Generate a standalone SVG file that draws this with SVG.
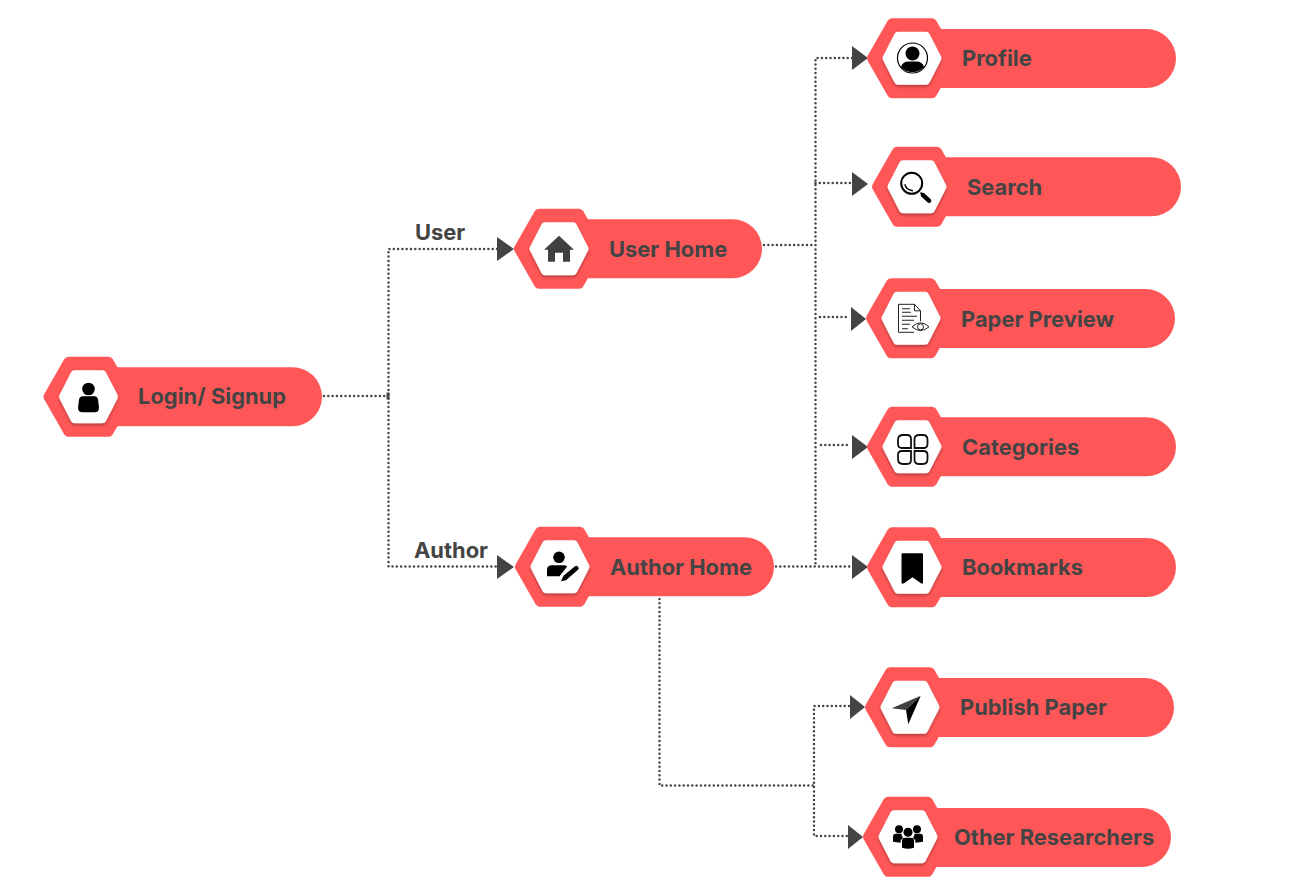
<svg xmlns="http://www.w3.org/2000/svg" width="1294" height="884" viewBox="0 0 1294 884">
<style>
.t{font-family:"Inter","Liberation Sans",sans-serif;font-weight:700;font-size:21.900px;fill:#444}
.pill{fill:#ff5757}
.hexo{fill:#ff5757;stroke:#ff5757;stroke-width:10;stroke-linejoin:round}
.hexw{fill:#fff;stroke:#fff;stroke-width:8;stroke-linejoin:round;filter:url(#sh)}
.dot{fill:none;stroke:#444;stroke-width:2.500;stroke-dasharray:0 4.300;stroke-linecap:round}
.ah{fill:#444}
</style>
<defs>
<filter id="sh" x="-30%" y="-30%" width="160%" height="170%"><feDropShadow dx="0" dy="2" stdDeviation="1.600" flood-color="#000" flood-opacity="0.3"/></filter>
<g id="hex">
<polygon class="hexo" points="-40,0 -20,-35 20,-35 40,0 20,35 -20,35"/>
<polygon class="hexw" points="-25.500,0 -14,-22.500 14,-22.500 25.500,0 14,22.500 -14,22.500"/>
</g>
</defs>
<rect width="1294" height="884" fill="#fff"/>
<g id="connectors">
<path class="dot" d="M324 396H388.500"/>
<path class="dot" d="M497 249H388.500V566.500H497"/>
<path class="ah" d="M386.500 392.500h3v7h-3z"/>
<path class="dot" d="M764 245H815.500"/>
<path class="dot" d="M852 58H815.500V566"/>
<path class="dot" d="M815.500 183H852M820 317H850M821 445H851"/>
<path class="dot" d="M776 566.500H852"/>
<path class="dot" d="M659.500 599V785.500H814"/>
<path class="dot" d="M849 706H814V836H847"/>
<polygon class="ah" points="497,237 514,249 497,261"/>
<polygon class="ah" points="497,555 514,567 497,579"/>
<polygon class="ah" points="852,46 868,58 852,70"/>
<polygon class="ah" points="852,172 868,184 852,196"/>
<polygon class="ah" points="851,307 866,319 851,331"/>
<polygon class="ah" points="852,435 868,447 852,459"/>
<polygon class="ah" points="852,555 868,567 852,579"/>
<polygon class="ah" points="850,695 865,707 850,719"/>
<polygon class="ah" points="848,825 863,837 848,849"/>
</g>
<text class="t" x="415" y="240">User</text>
<text class="t" x="414" y="558">Author</text>
<g id="login">
<path class="pill" d="M100 367.200H292.500A29.500 29.500 0 0 1 292.500 426.200H100Z"/>
<use href="#hex" x="88.500" y="396.700"/>
<g transform="translate(88.500 396.700)">
<circle cx="0" cy="-7.700" r="6.300"/>
<path d="M-6,-0.500H6Q9,-0.500 9.500,3L10.500,11Q10.500,15.500 6,15.500H-6Q-10.500,15.500 -10.500,11L-9.500,3Q-9,-0.500 -6,-0.500Z"/>
</g>
<text class="t" x="138" y="404">Login/ Signup</text>
</g>
<g id="user-home">
<path class="pill" d="M570 219.200H732.500A29.500 29.500 0 0 1 732.500 278.200H570Z"/>
<use href="#hex" x="559" y="248.700"/>
<path transform="translate(559 248.700)" fill="#404040" d="M0,-13L15,1H11V13H4V4H-4V13H-11V1H-15Z"/>
<text class="t" x="609" y="257">User Home</text>
</g>
<g id="author-home">
<path class="pill" d="M570 537.200H744.500A29.500 29.500 0 0 1 744.500 596.200H570Z"/>
<use href="#hex" x="560" y="566.700"/>
<g transform="translate(560 566.700)">
<circle cx="-1" cy="-9.400" r="5.800"/>
<path d="M-13,9.500V3Q-13,-1.500 -8,-1.500H4Q7,-1.500 7,0L-0.500,9.500Z"/>
<path d="M3.500,9L15,-0.500Q16.500,-1.500 18,0Q19.500,1.500 18,3L6,13.500L1,14.500Z"/>
</g>
<text class="t" x="610" y="575">Author Home</text>
</g>
<g id="profile">
<path class="pill" d="M925 29H1146.500A29.500 29.500 0 0 1 1146.500 88H925Z"/>
<use href="#hex" x="912" y="58.300"/>
<g transform="translate(912.500 58)">
<circle r="15" fill="none" stroke="#000" stroke-width="1.200"/>
<circle cy="-4.500" r="7"/>
<path d="M-11.500,9Q-10,3.500 -4,3.500H4Q10,3.500 11.500,9Q6,14.500 0,14Q-6,14.500 -11.500,9Z"/>
</g>
<text class="t" x="962" y="66">Profile</text>
</g>
<g id="search">
<path class="pill" d="M930 157.300H1151.500A29.500 29.500 0 0 1 1151.500 216.300H930Z"/>
<use href="#hex" x="917" y="186.700"/>
<g transform="translate(917 186.700)" fill="none" stroke="#000">
<circle cx="-5.300" cy="-3.400" r="10.500" stroke-width="2"/>
<path d="M-12,-2.500Q-11.500,3 -4,4" stroke-width="1.500"/>
<path d="M3.500,6L6,8" stroke-width="2"/>
<path d="M6,8.500L12,14" stroke-width="4.500" stroke-linecap="round"/>
</g>
<text class="t" x="967" y="195">Search</text>
</g>
<g id="paper-preview">
<path class="pill" d="M925 289H1145.500A29.500 29.500 0 0 1 1145.500 348H925Z"/>
<use href="#hex" x="911" y="318.300"/>
<g transform="translate(911 318.300)" fill="none" stroke="#222" stroke-width="1">
<path d="M9.500,3V-7.500L3.500,-14H-12.500V14H3"/>
<path d="M3.500,-14V-7.500H9.500"/>
<path d="M-9,-9.500H-1M-9,-6H0M-9,-2H6M-9,2H3M-9,6H-1M-9,10.500H-3" stroke-width="1.100"/>
<path d="M1,8.500Q9.500,0.500 18,8.500Q9.500,16 1,8.500Z" fill="#fff"/>
<circle cx="9.500" cy="8.500" r="3"/>
</g>
<text class="t" x="961" y="327">Paper Preview</text>
</g>
<g id="categories">
<path class="pill" d="M925 417.300H1146.500A29.500 29.500 0 0 1 1146.500 476.300H925Z"/>
<use href="#hex" x="912" y="446.700"/>
<g transform="translate(912 449)" fill="none" stroke="#111" stroke-width="1.800">
<path d="M-9,-14H-5Q-1,-14 -1,-10V-1H-10Q-14,-1 -14,-5V-9Q-14,-14 -9,-14Z"/>
<path d="M7.500,-14H11Q15.500,-14 15.500,-9V-5Q15.500,-1 11.500,-1H2.500V-10Q2.500,-14 7.500,-14Z"/>
<path d="M-10,2H-1V11Q-1,15 -5,15H-9Q-14,15 -14,10V6Q-14,2 -10,2Z"/>
<path d="M2.500,2H11.500Q15.500,2 15.500,6V10Q15.500,15 11,15H7.500Q2.500,15 2.500,11Z"/>
</g>
<text class="t" x="962" y="455">Categories</text>
</g>
<g id="bookmarks">
<path class="pill" d="M925 538H1146.500A29.500 29.500 0 0 1 1146.500 597H925Z"/>
<use href="#hex" x="912" y="567.300"/>
<path transform="translate(912 567.300)" d="M-9.500,-14H10Q11,-14 11,-13V15Q11,17 9,16L0.500,10L-8,16Q-10.500,17 -10.500,15V-13Q-10.500,-14 -9.500,-14Z"/>
<text class="t" x="962" y="575">Bookmarks</text>
</g>
<g id="publish-paper">
<path class="pill" d="M923 678H1144.500A29.500 29.500 0 0 1 1144.500 737H923Z"/>
<use href="#hex" x="910" y="707.300"/>
<g transform="translate(910 707.300)">
<path fill="#404040" d="M10.700,-11.600L-18.300,1L-4,2.700Z"/>
<path d="M10.700,-11.600L-4,2.700L-1.700,17Z"/>
</g>
<text class="t" x="960" y="715">Publish Paper</text>
</g>
<g id="other-researchers">
<path class="pill" d="M921 808H1141.500A29.500 29.500 0 0 1 1141.500 867H921Z"/>
<use href="#hex" x="908" y="836.700"/>
<g transform="translate(908 836.700)">
<circle cy="-4.500" r="4.500"/>
<circle cx="-9" cy="-7.500" r="4"/>
<circle cx="9" cy="-7.500" r="4"/>
<path d="M-15,5V0Q-15,-3 -12,-3H-6.500Q-6.500,-0.500 -5,1Q-7.500,2.500 -7.500,6Z"/>
<path d="M15,5V0Q15,-3 12,-3H6.500Q6.500,-0.500 5,1Q7.500,2.500 7.500,6Z"/>
<path d="M-6,11V4Q-6,1 -3,1H3Q6,1 6,4V11Q0,13 -6,11Z"/>
</g>
<text class="t" x="954" y="845">Other Researchers</text>
</g>
</svg>
